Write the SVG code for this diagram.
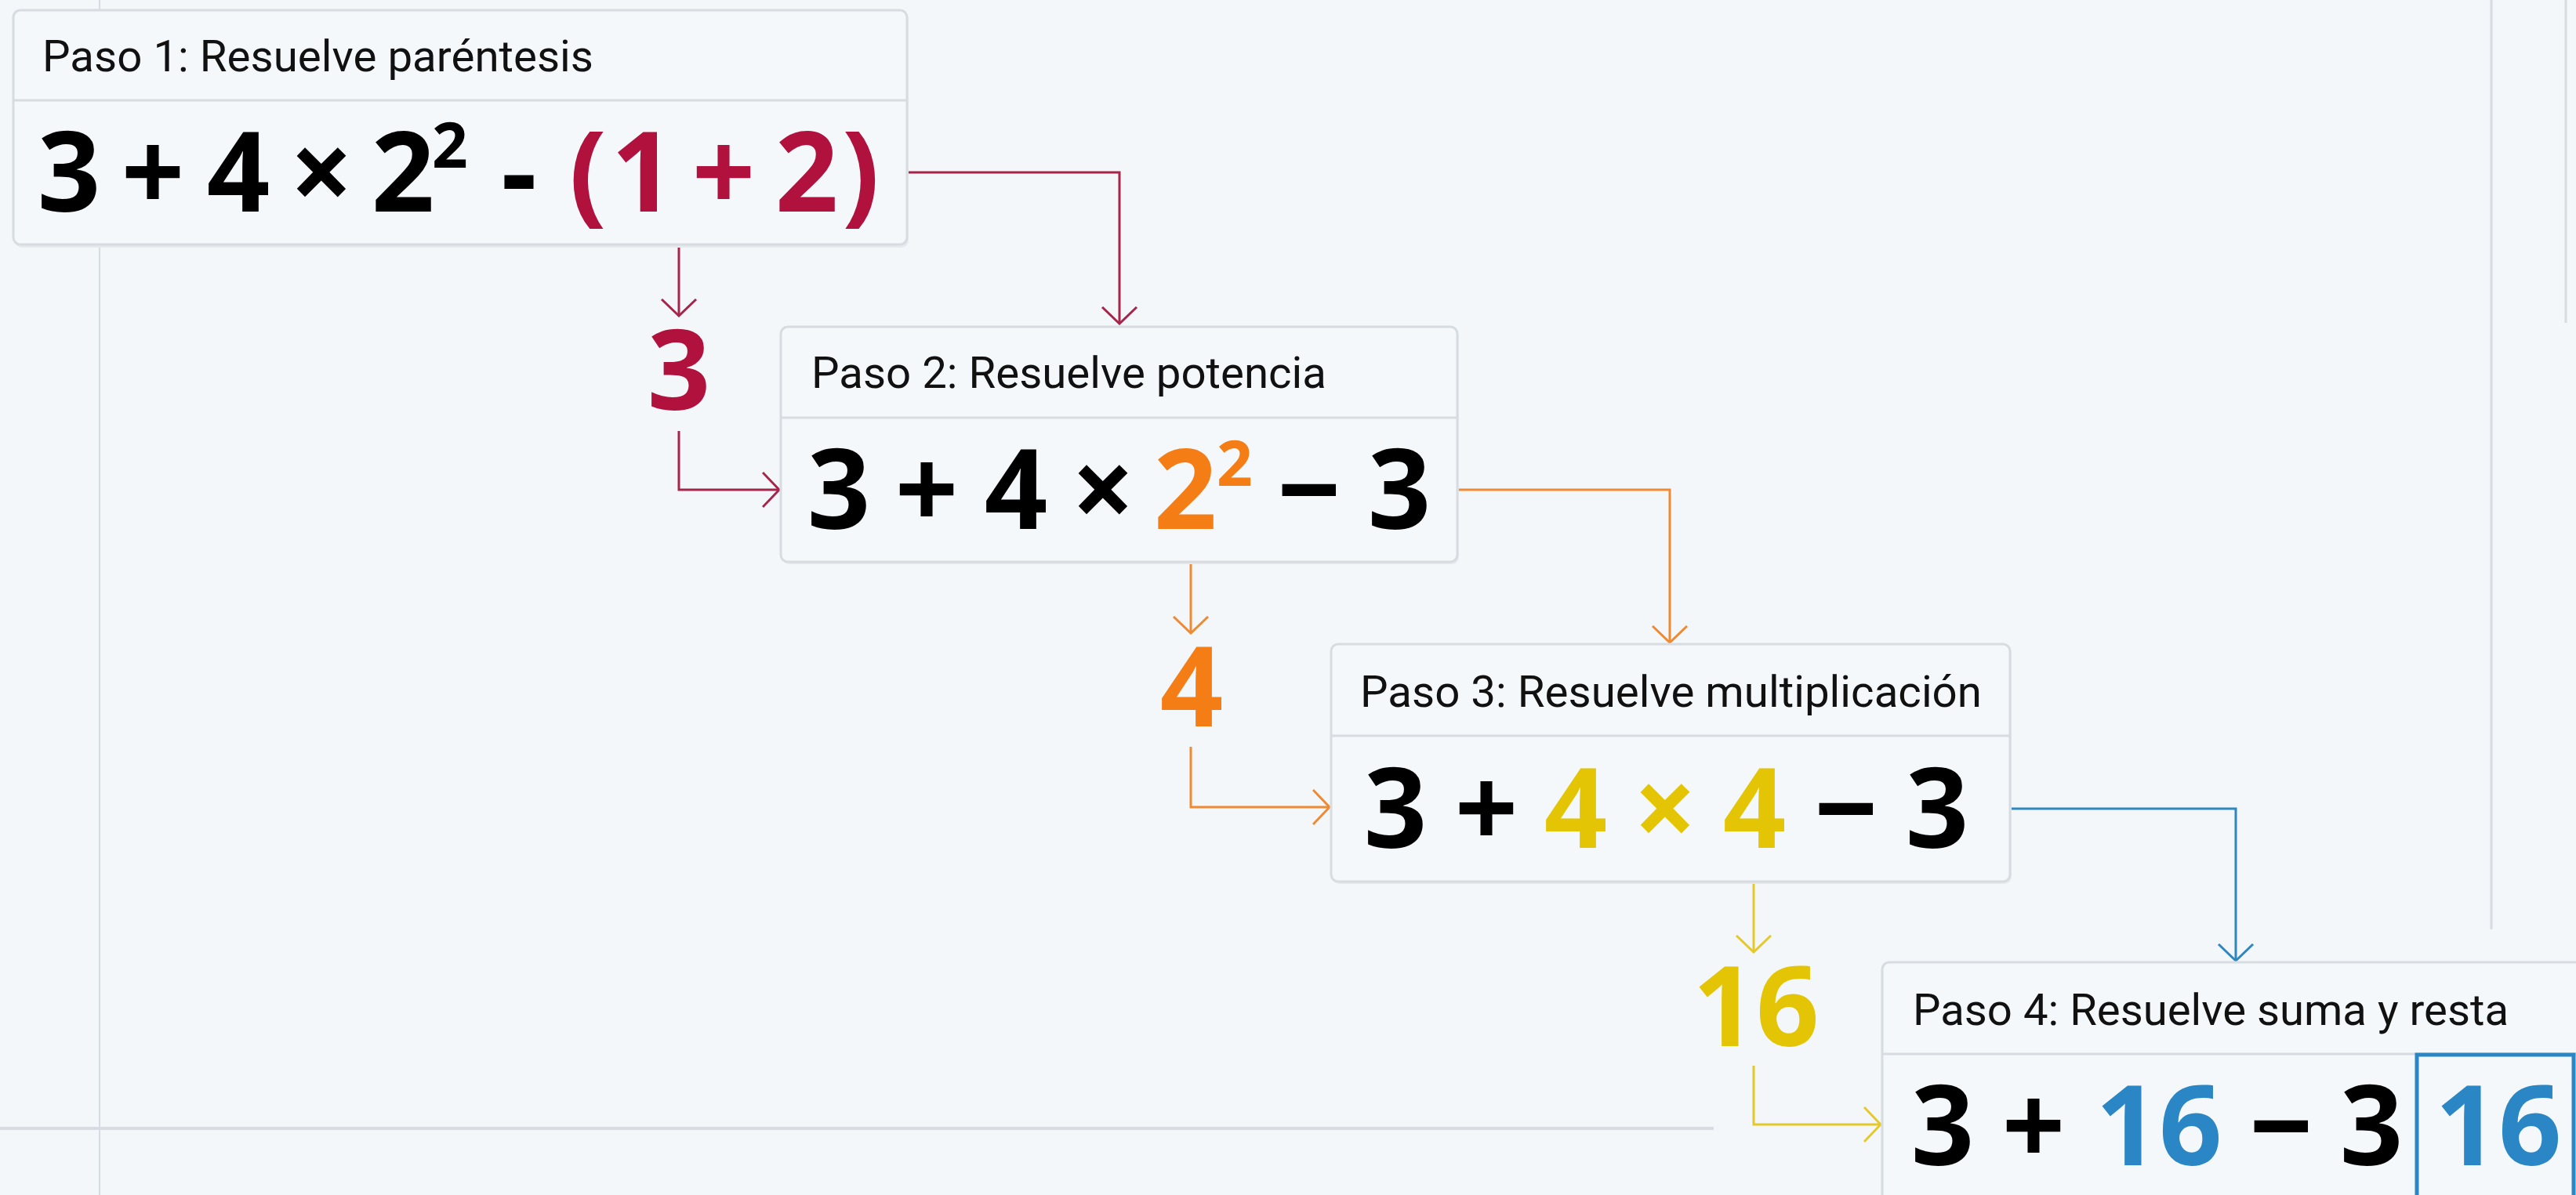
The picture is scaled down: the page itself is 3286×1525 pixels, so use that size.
<svg xmlns="http://www.w3.org/2000/svg" width="3286" height="1525" viewBox="0 0 3286 1525">
<defs>
<style>
.bg{fill:#f3f7f9}
.guide{stroke:#d6dce1;fill:none}
.box{fill:#f5f8fa;stroke:#d7dce1;stroke-width:3}
.shadow{fill:#e6eaee}
.div{stroke:#d7dce1;stroke-width:3}
.hdr{font-family:Roboto,"Liberation Sans",sans-serif;font-size:55px;fill:#111111}
.m{font-family:"Noto Sans","DejaVu Sans",sans-serif;font-weight:700;font-size:141px;fill:#000000;text-anchor:middle}
.sup{font-size:80px}
.red{fill:#b0113d}
.org{fill:#f57d16}
.yel{fill:#e4c505}
.blu{fill:#2a86c4}
.c{fill:none;stroke-width:3;stroke-linejoin:miter}
.cr{stroke:#a5254b}
.co{stroke:#ef8a32}
.cy{stroke:#e5c82a}
.cb{stroke:#2f87c0}
</style>
<marker id="arR" viewBox="0 0 24 48" refX="22" refY="24" markerWidth="24" markerHeight="48" markerUnits="userSpaceOnUse" orient="auto"><path d="M1,2 L22,24 L1,46" fill="none" stroke="#a5254b" stroke-width="3"/></marker>
<marker id="arO" viewBox="0 0 24 48" refX="22" refY="24" markerWidth="24" markerHeight="48" markerUnits="userSpaceOnUse" orient="auto"><path d="M1,2 L22,24 L1,46" fill="none" stroke="#ef8a32" stroke-width="3"/></marker>
<marker id="arY" viewBox="0 0 24 48" refX="22" refY="24" markerWidth="24" markerHeight="48" markerUnits="userSpaceOnUse" orient="auto"><path d="M1,2 L22,24 L1,46" fill="none" stroke="#e5c82a" stroke-width="3"/></marker>
<marker id="arB" viewBox="0 0 24 48" refX="22" refY="24" markerWidth="24" markerHeight="48" markerUnits="userSpaceOnUse" orient="auto"><path d="M1,2 L22,24 L1,46" fill="none" stroke="#2f87c0" stroke-width="3"/></marker>
</defs>
<rect class="bg" x="0" y="0" width="3286" height="1525"/>
<g id="guides">
<line class="guide" x1="127" y1="0" x2="127" y2="1525" stroke-width="2"/>
<line class="guide" x1="0" y1="1440" x2="2186" y2="1440" stroke-width="4"/>
<line class="guide" x1="3178" y1="0" x2="3178" y2="1186" stroke-width="3"/>
<line class="guide" x1="3273" y1="0" x2="3273" y2="412" stroke-width="3"/>
</g>
<g id="connectors">
<path class="c cr" d="M1158,220 H1428 V413" marker-end="url(#arR)"/>
<path class="c cr" d="M866,314 V403" marker-end="url(#arR)"/>
<path class="c cr" d="M866,550 V625 H994" marker-end="url(#arR)"/>
<path class="c co" d="M1861,625 H2130 V820" marker-end="url(#arO)"/>
<path class="c co" d="M1519,718 V808" marker-end="url(#arO)"/>
<path class="c co" d="M1519,953 V1030 H1696" marker-end="url(#arO)"/>
<path class="c cb" d="M2565,1032 H2852 V1226" marker-end="url(#arB)"/>
<path class="c cy" d="M2237,1124 V1215" marker-end="url(#arY)"/>
<path class="c cy" d="M2237,1360 V1435 H2399" marker-end="url(#arY)"/>
</g>
<g id="step1">
<rect class="shadow" x="19" y="16" width="1140" height="300" rx="9"/>
<rect class="box" x="17" y="13" width="1140" height="299" rx="9"/>
<line class="div" x1="17" y1="128" x2="1157" y2="128"/>
<text class="hdr" x="54" y="91" textLength="703" lengthAdjust="spacingAndGlyphs">Paso 1: Resuelve paréntesis</text>
<text class="m" y="270"><tspan x="88">3</tspan><tspan x="195">+</tspan><tspan x="304">4</tspan><tspan x="410">×</tspan><tspan x="514">2</tspan></text>
<text class="m sup" x="574" y="214">2</text>
<text class="m" y="270"><tspan x="662">-</tspan></text>
<text class="m red" y="270"><tspan x="750">(</tspan><tspan x="820">1</tspan><tspan x="923">+</tspan><tspan x="1029">2</tspan><tspan x="1098">)</tspan></text>
</g>
<g id="result1">
<text class="m red" x="866" y="523">3</text>
</g>
<g id="step2">
<rect class="shadow" x="998" y="420" width="863" height="300" rx="9"/>
<rect class="box" x="996" y="417" width="863" height="300" rx="9"/>
<line class="div" x1="996" y1="533" x2="1859" y2="533"/>
<text class="hdr" x="1035" y="495" textLength="657" lengthAdjust="spacingAndGlyphs">Paso 2: Resuelve potencia</text>
<text class="m" y="675"><tspan x="1070">3</tspan><tspan x="1182">+</tspan><tspan x="1296">4</tspan><tspan x="1407">×</tspan></text>
<text class="m org" x="1512" y="675">2</text>
<text class="m sup org" x="1575" y="620">2</text>
<text class="m" y="675"><tspan x="1670">−</tspan><tspan x="1785">3</tspan></text>
</g>
<g id="result2">
<text class="m org" x="1520" y="927">4</text>
</g>
<g id="step3">
<rect class="shadow" x="1700" y="825" width="866" height="303" rx="9"/>
<rect class="box" x="1698" y="822" width="866" height="303" rx="9"/>
<line class="div" x1="1698" y1="939" x2="2564" y2="939"/>
<text class="hdr" x="1735" y="902" textLength="793" lengthAdjust="spacingAndGlyphs">Paso 3: Resuelve multiplicación</text>
<text class="m" y="1082"><tspan x="1780">3</tspan><tspan x="1896">+</tspan></text>
<text class="m yel" y="1082"><tspan x="2010">4</tspan><tspan x="2124">×</tspan><tspan x="2238">4</tspan></text>
<text class="m" y="1082"><tspan x="2355">−</tspan><tspan x="2471">3</tspan></text>
</g>
<g id="result3">
<text class="m yel" x="2240" y="1335">16</text>
</g>
<g id="step4">
<rect class="shadow" x="2403" y="1231" width="900" height="320" rx="9"/>
<rect class="box" x="2401" y="1228" width="900" height="320" rx="9"/>
<line class="div" x1="2401" y1="1345" x2="3286" y2="1345"/>
<text class="hdr" x="2440" y="1308" textLength="760" lengthAdjust="spacingAndGlyphs">Paso 4: Resuelve suma y resta</text>
<text class="m" y="1487"><tspan x="2478">3</tspan><tspan x="2594">+</tspan></text>
<text class="m blu" x="2754" y="1487">16</text>
<text class="m" y="1487"><tspan x="2910">−</tspan><tspan x="3025">3</tspan></text>
<rect x="3083" y="1346" width="200" height="200" fill="none" stroke="#2a86c4" stroke-width="5"/>
<text class="m blu" x="3187" y="1487">16</text>
</g>
</svg>
